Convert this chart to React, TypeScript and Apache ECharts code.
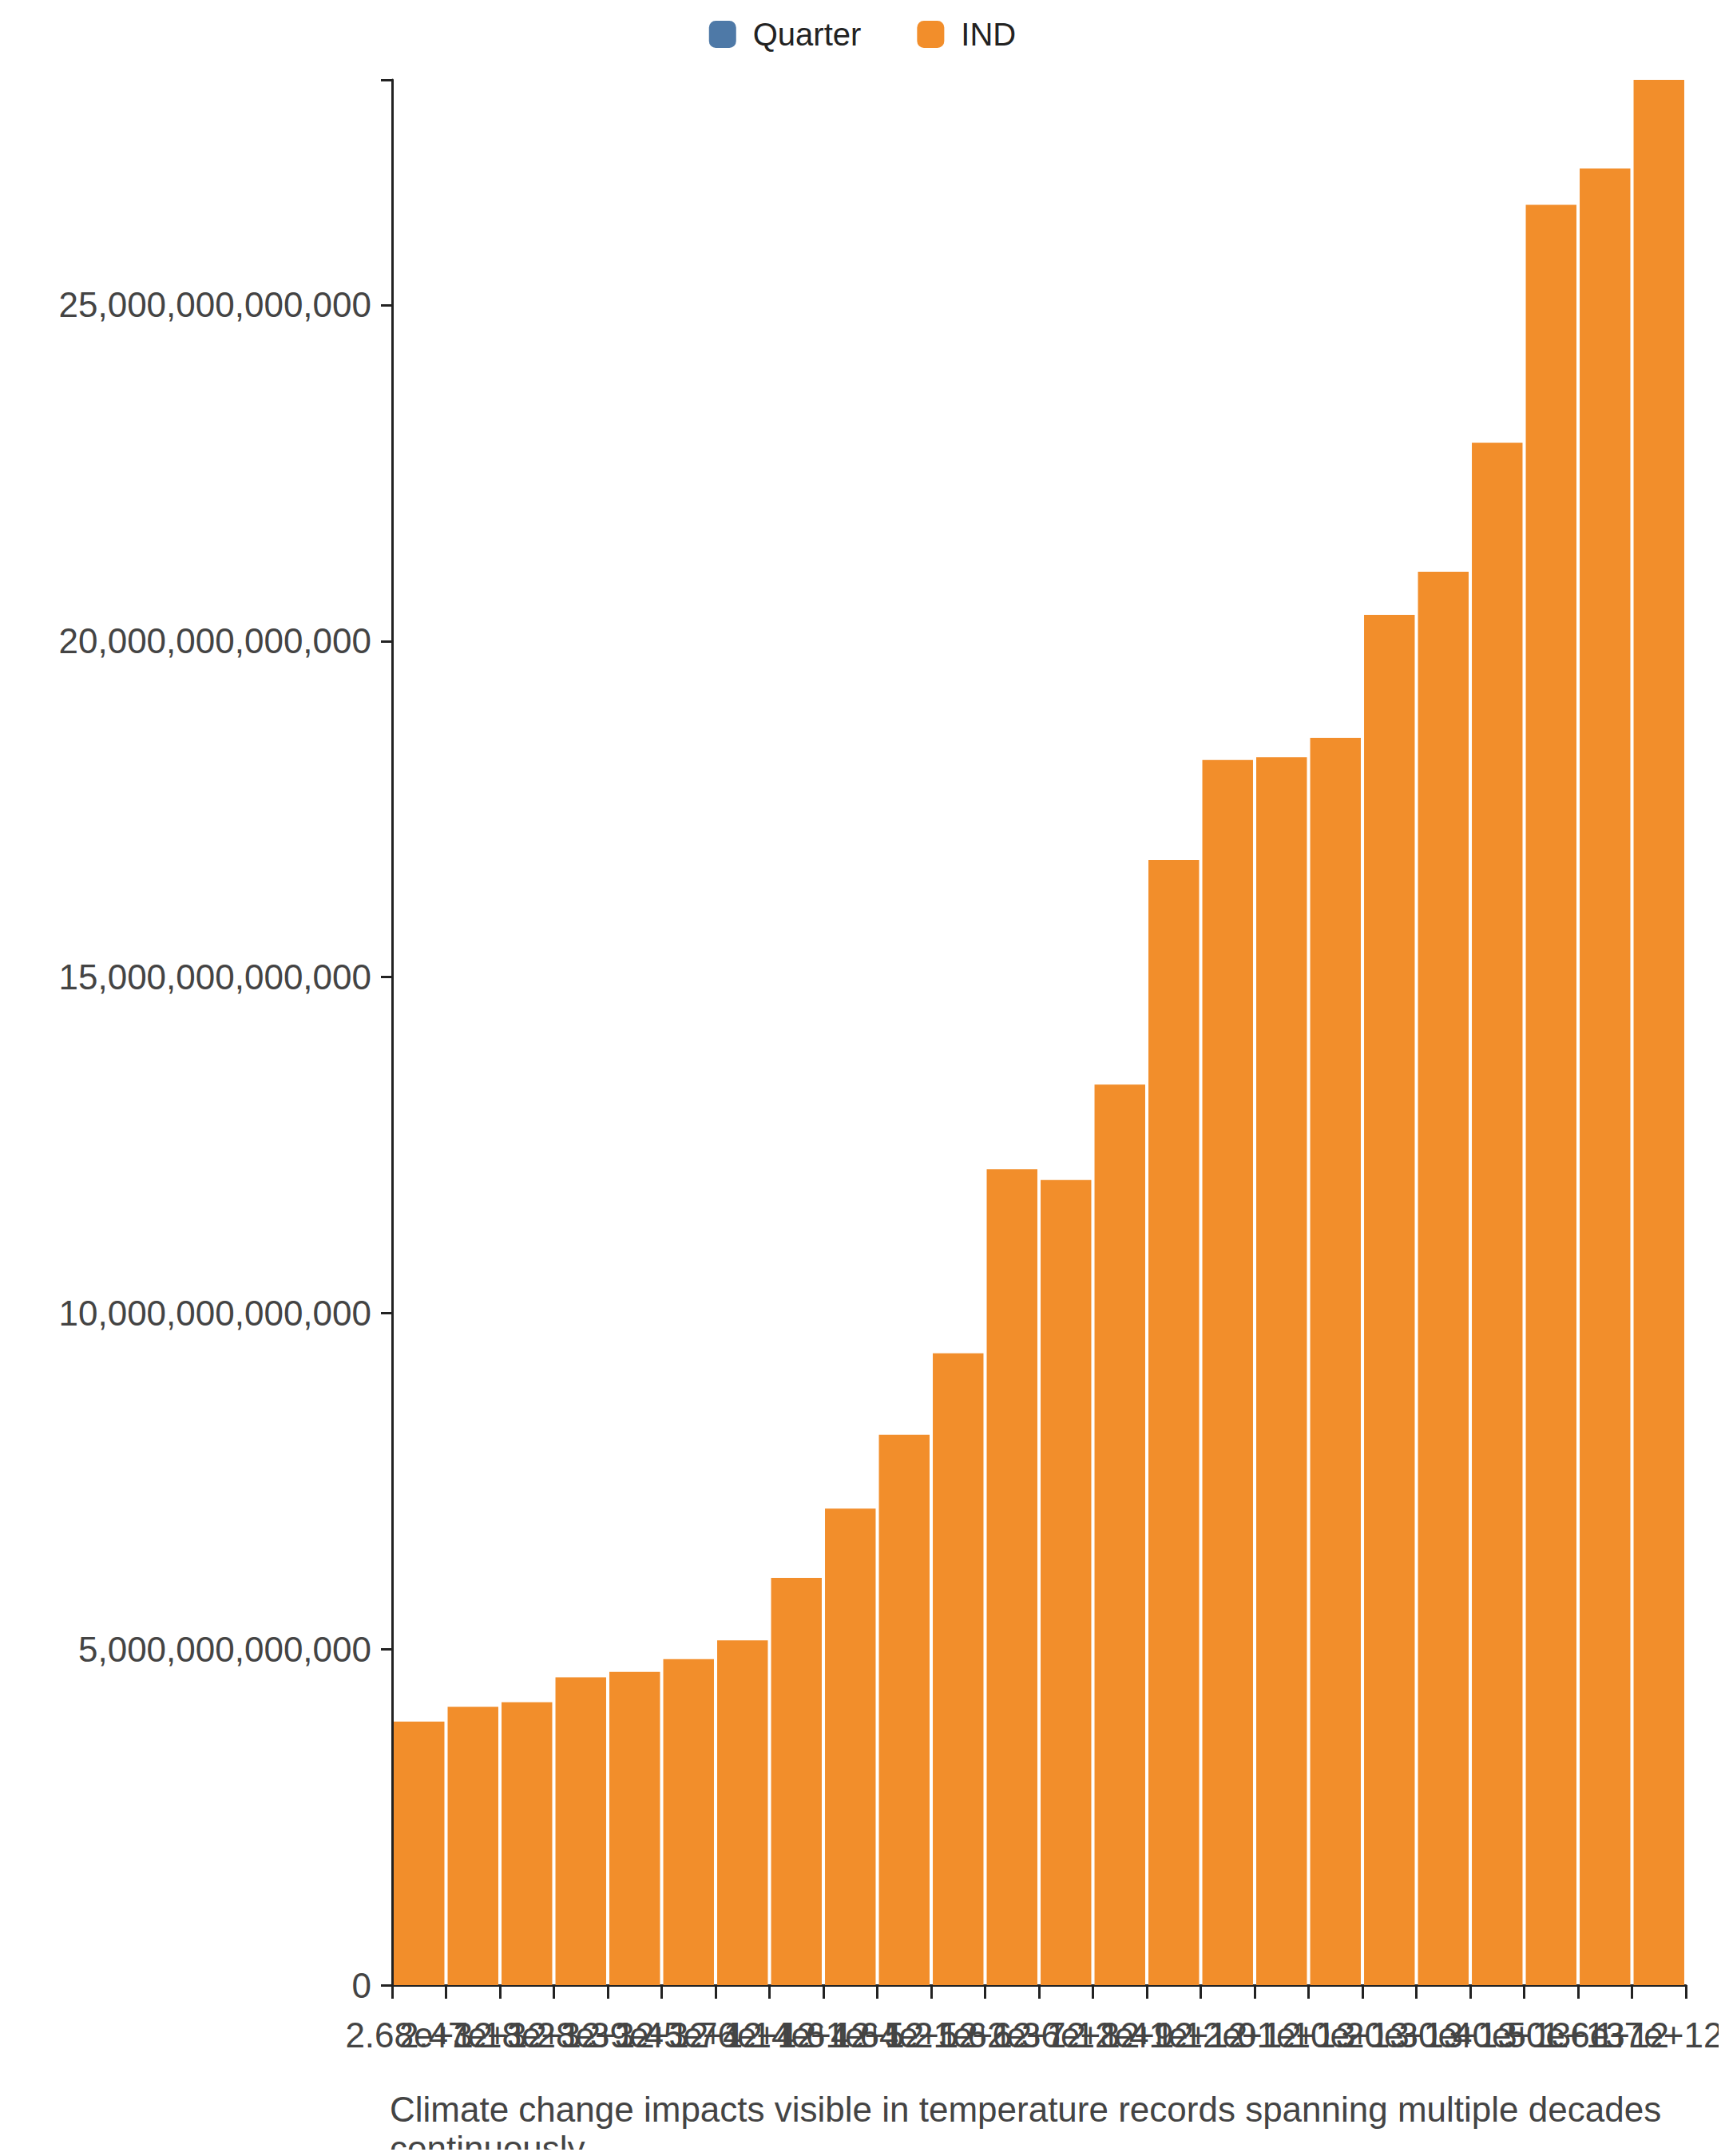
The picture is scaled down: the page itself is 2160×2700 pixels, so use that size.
import { useEffect, useRef } from 'react'
import * as echarts from 'echarts'

const values = [
  3.92e12, 4.14e12, 4.21e12, 4.58e12, 4.66e12, 4.85e12, 5.13e12, 6.06e12,
  7.09e12, 8.19e12, 9.4e12, 12.14e12, 11.98e12, 13.4e12, 16.74e12, 18.23e12,
  18.27e12, 18.56e12, 20.39e12, 21.03e12, 22.95e12, 26.49e12, 27.03e12, 28.35e12,
]
const categories = [
  '2.68e+12', '2.47e+12', '3.18e+12', '3.28e+12', '3.39e+12', '3.45e+12',
  '3.76e+12', '4.14e+12', '4.61e+12', '4.64e+12', '5.21e+12', '5.62e+12',
  '6.36e+12', '7.12e+12', '8.41e+12', '9.12e+12', '1.01e+13', '1.10e+13',
  '1.20e+13', '1.30e+13', '1.40e+13', '1.50e+13', '1.6e+12', '1.7e+12',
]
const caption = 'Climate change impacts visible in temperature records spanning multiple decades\ncontinuously.'

export default function App() {
  const ref = useRef<HTMLDivElement>(null)

  useEffect(() => {
    if (!ref.current) return
    const chart = echarts.init(ref.current, undefined, { renderer: 'svg' })
    const font = 'Liberation Sans, Arial, sans-serif'
    chart.setOption({
      animation: false,
      backgroundColor: '#fff',
      textStyle: { fontFamily: font },
      legend: {
        top: 18,
        left: 'center',
        itemWidth: 34,
        itemHeight: 34,
        itemGap: 70,
        textStyle: { fontSize: 40, color: '#222', padding: [0, 0, 0, 16] },
        data: [
          { name: 'Quarter', icon: 'roundRect', itemStyle: { color: '#4e79a7' } },
          { name: 'IND', icon: 'roundRect', itemStyle: { color: '#f28e2b' } },
        ],
      },
      title: {
        text: caption,
        left: 483,
        top: 2612,
        textStyle: { fontSize: 44, fontWeight: 'normal', color: '#444', lineHeight: 49, fontFamily: font },
      },
      grid: { left: 491, right: 30, top: 100, bottom: 214, containLabel: false },
      xAxis: {
        type: 'category',
        data: categories,
        boundaryGap: true,
        axisLine: { lineStyle: { color: '#222', width: 3 } },
        axisTick: { show: true, length: 17, lineStyle: { color: '#222', width: 3 } },
        axisLabel: { interval: 0, hideOverlap: false, fontSize: 44, color: '#444', margin: 40, align: 'center' },
      },
      yAxis: {
        type: 'value',
        min: 0,
        max: 28.35e12,
        interval: 5e12,
        axisLine: { show: true, lineStyle: { color: '#222', width: 3 } },
        axisTick: { show: true, length: 14, lineStyle: { color: '#222', width: 3 } },
        splitLine: { show: false },
        axisLabel: {
          fontSize: 44, color: '#444', margin: 26,
          formatter: (v: number) => (v === 28.35e12 ? '' : Math.round(v).toLocaleString('en-US')),
        },
      },
      series: [
        { name: 'Quarter', type: 'line', data: [], itemStyle: { color: '#4e79a7' } },
        {
          name: 'IND',
          type: 'bar',
          data: values,
          barCategoryGap: '6%',
          itemStyle: { color: '#f28e2b' },
        },
      ],
    })
    return () => chart.dispose()
  }, [])

  return <div ref={ref} style={{ width: 2160, height: 2700, margin: -8 }} />
}
